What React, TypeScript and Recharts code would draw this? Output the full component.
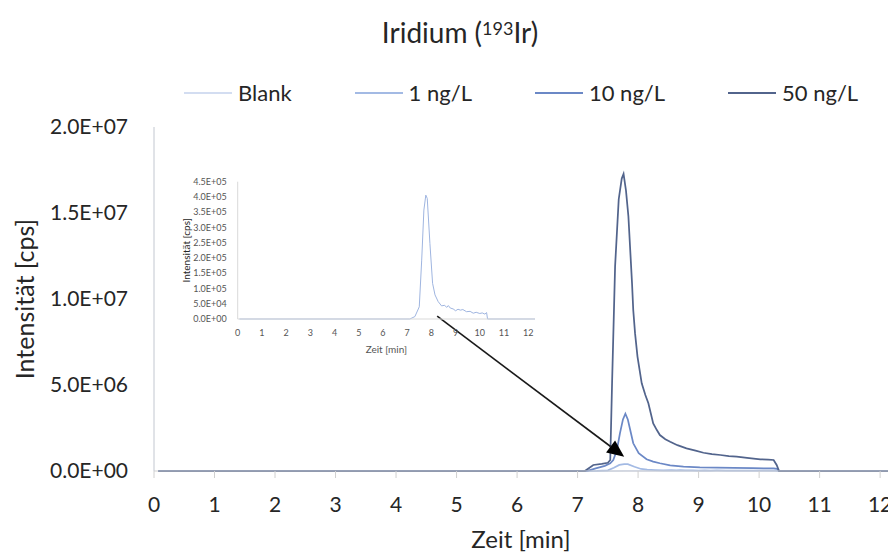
import React from 'react';
import { LineChart, Line, XAxis, YAxis, Legend, ReferenceLine, Label } from 'recharts';

const FONT = 'Lato, "Open Sans", sans-serif';
const TEXT = '#262626';

// ---- tick labels / categories ----
const xTicks = [0, 1, 2, 3, 4, 5, 6, 7, 8, 9, 10, 11, 12];
const yTicks = [0, 5e6, 1e7, 1.5e7, 2e7];
const insetYTicks = [0, 5e4, 1e5, 1.5e5, 2e5, 2.5e5, 3e5, 3.5e5, 4e5, 4.5e5];

const seriesNames = ['Blank', '1 ng/L', '10 ng/L', '50 ng/L'];
const seriesColors = ['#d3ddf1', '#a3bae4', '#6b88c6', '#52648c'];

// ---- series (time in min, intensity) ----
const blankTime = [0.07, 7.5, 7.8, 8.2, 10.3, 12.28];
const blankValues = [0, 0, 0.1, 0.03, 0, 0]; // x1e5 cps

const ng1Time = [0.07, 7.11, 7.32, 7.5, 7.6, 7.69, 7.77, 7.83, 7.94, 8.05, 8.15, 8.28, 8.42, 8.55, 8.63, 8.7, 8.78, 8.9, 9.0, 9.1, 9.2, 9.3, 9.45, 9.6, 9.73, 9.85, 10.0, 10.1, 10.21, 10.28, 10.32, 12.28];
const ng1Values = [0, 0, 0.08, 0.4, 1.93, 3.57, 4.06, 3.95, 2.47, 1.17, 0.79, 0.57, 0.43, 0.45, 0.38, 0.44, 0.36, 0.33, 0.27, 0.32, 0.29, 0.31, 0.24, 0.25, 0.19, 0.22, 0.18, 0.2, 0.16, 0.21, 0, 0]; // x1e5 cps

const ng10Time = [0.07, 7.15, 7.3, 7.45, 7.54, 7.59, 7.65, 7.7, 7.75, 7.79, 7.83, 7.87, 7.92, 8.01, 8.14, 8.25, 8.36, 8.53, 8.75, 9.02, 9.3, 9.58, 9.9, 10.24, 10.3, 10.33, 12.28];
const ng10Values = [0, 0, 0.15, 0.3, 0.45, 0.64, 1.22, 2.19, 3.0, 3.33, 3.0, 2.38, 1.61, 1.03, 0.68, 0.55, 0.45, 0.33, 0.26, 0.21, 0.19, 0.18, 0.16, 0.15, 0.12, 0, 0]; // x1e6 cps

const ng50Time = [0.07, 7.12, 7.26, 7.4, 7.5, 7.54, 7.57, 7.62, 7.68, 7.73, 7.76, 7.8, 7.84, 7.87, 7.9, 7.92, 7.95, 7.99, 8.06, 8.12, 8.17, 8.25, 8.31, 8.36, 8.45, 8.53, 8.65, 8.8, 8.95, 9.08, 9.22, 9.36, 9.5, 9.63, 9.8, 10.02, 10.15, 10.24, 10.29, 10.33, 12.28];
const ng50Values = [0, 0, 0.35, 0.42, 0.48, 0.64, 5.1, 11.9, 15.8, 17.0, 17.27, 16.3, 14.8, 12.85, 10.9, 9.36, 8.0, 6.65, 5.1, 4.42, 3.94, 2.77, 2.38, 2.09, 1.85, 1.7, 1.5, 1.32, 1.18, 1.06, 0.98, 0.93, 0.87, 0.83, 0.76, 0.68, 0.66, 0.64, 0.35, 0, 0]; // x1e6 cps

// arrow annotation (data coordinates of the main chart)
const arrowFrom = { x: 4.68, y: 9.0e6 };
const arrowTo = { x: 7.77, y: 0.83e6 };

const toPoints = (ts: number[], vs: number[], scale: number) => ts.map((t, i) => ({ t, v: vs[i] * scale }));

const blankData = toPoints(blankTime, blankValues, 1e5);
const ng1Data = toPoints(ng1Time, ng1Values, 1e5);
const ng10Data = toPoints(ng10Time, ng10Values, 1e6);
const ng50Data = toPoints(ng50Time, ng50Values, 1e6);
const seriesData = [blankData, ng1Data, ng10Data, ng50Data];

const sci = (v: number) => {
  const [m, e] = v.toExponential(1).split('e');
  const n = parseInt(e, 10);
  return `${m}E${n < 0 ? '-' : '+'}${String(Math.abs(n)).padStart(2, '0')}`;
};

const ArrowShape = (props: any) => {
  const { x1, y1, x2, y2 } = props;
  if ([x1, y1, x2, y2].some((v) => typeof v !== 'number' || isNaN(v))) return <g />;
  const ang = Math.atan2(y2 - y1, x2 - x1);
  const len = 17;
  const hw = 7.5;
  const bx = x2 - len * Math.cos(ang);
  const by = y2 - len * Math.sin(ang);
  const px = -Math.sin(ang);
  const py = Math.cos(ang);
  return (
    <g>
      <line x1={x1} y1={y1} x2={bx} y2={by} stroke="#1a1a1a" strokeWidth={1.6} />
      <polygon points={`${x2},${y2} ${bx + px * hw},${by + py * hw} ${bx - px * hw},${by - py * hw}`} fill="#000" />
    </g>
  );
};

const RotLabel = ({ viewBox, value, dx, size }: any) => {
  const cx = viewBox.x + dx;
  const cy = viewBox.y + viewBox.height / 2;
  return (
    <text x={cx} y={cy} transform={`rotate(-90 ${cx} ${cy})`} textAnchor="middle" dominantBaseline="central" fontFamily={FONT} fontSize={size} fill={TEXT}>
      {value}
    </text>
  );
};

const LegendContent = () => (
  <div style={{ display: 'flex', alignItems: 'center', gap: 63, fontFamily: FONT, fontSize: 22, color: TEXT, whiteSpace: 'nowrap' }}>
    {seriesNames.map((n, i) => (
      <div key={n} style={{ display: 'flex', alignItems: 'center' }}>
        <svg width={48} height={6}>
          <line x1={0} y1={3} x2={48} y2={3} stroke={seriesColors[i]} strokeWidth={2} />
        </svg>
        <span style={{ marginLeft: 6 }}>{n}</span>
      </div>
    ))}
  </div>
);

export default function App() {
  return (
    <div style={{ position: 'absolute', left: 0, top: 0, width: 888, height: 554, background: '#fff', overflow: 'hidden' }}>
      <div style={{ position: 'absolute', left: 0, top: 15, width: 920, textAlign: 'center', fontFamily: FONT, fontSize: 28, lineHeight: '34px', color: TEXT }}>
        Iridium (<span style={{ fontSize: 18, position: 'relative', top: -8 }}>193</span>Ir)
      </div>
      <LineChart width={888} height={554} margin={{ top: 127, right: 0, bottom: 0, left: 0 }}>
        <XAxis
          dataKey="t"
          type="number"
          domain={[0, 12.13]}
          allowDataOverflow
          ticks={xTicks}
          interval={0}
          tickSize={7}
          tickMargin={19}
          height={83}
          stroke="#d0d0d0"
          tick={{ fill: TEXT, fontSize: 21, fontFamily: FONT }}
        >
          <Label value="Zeit [min]" position="insideBottom" offset={6} style={{ fill: TEXT, fontSize: 24, fontFamily: FONT }} />
        </XAxis>
        <YAxis
          type="number"
          domain={[0, 2e7]}
          ticks={yTicks}
          tickFormatter={sci}
          width={154}
          tickLine={false}
          tickSize={0}
          tickMargin={26}
          stroke="#c2c7d0"
          tick={{ fill: TEXT, fontSize: 21, fontFamily: FONT }}
          label={(p: any) => <RotLabel {...p} value="Intensität [cps]" dx={24} size={25} />}
        />
        <Legend verticalAlign="middle" align="center" layout="horizontal" content={LegendContent} wrapperStyle={{ top: 79, left: 184, width: 'auto' }} />
        {seriesNames.map((n, i) => (
          <Line key={n} name={n} data={seriesData[i]} dataKey="v" type="linear" stroke={seriesColors[i]} strokeWidth={1.75} dot={false} activeDot={false} isAnimationActive={false} />
        ))}
        <ReferenceLine segment={[arrowFrom, arrowTo]} shape={ArrowShape} ifOverflow="visible" />
      </LineChart>
      <div style={{ position: 'absolute', left: 170, top: 160, width: 370, height: 200, pointerEvents: 'none' }}>
        <LineChart width={370} height={200} margin={{ top: 21.7, right: 5, bottom: 0, left: 0 }}>
          <XAxis
            dataKey="t"
            type="number"
            domain={[0, 12.28]}
            allowDataOverflow
            ticks={xTicks}
            interval={0}
            tickLine={false}
            tickSize={0}
            tickMargin={11}
            height={41}
            stroke="#d9d9d9"
            tick={{ fill: '#555', fontSize: 9, fontFamily: FONT }}
          >
            <Label value="Zeit [min]" position="insideBottom" offset={7} style={{ fill: '#555', fontSize: 10, fontFamily: FONT }} />
          </XAxis>
          <YAxis
            type="number"
            domain={[0, 4.5e5]}
            ticks={insetYTicks}
            tickFormatter={sci}
            width={67.7}
            tickLine={false}
            tickSize={0}
            tickMargin={11}
            stroke="#d9d9d9"
            tick={{ fill: '#555', fontSize: 9, fontFamily: FONT }}
            label={(p: any) => <RotLabel {...p} value="Intensität [cps]" dx={16} size={10} />}
          />
          <Line name="1 ng/L" data={ng1Data} dataKey="v" type="linear" stroke="#9fb5e0" strokeWidth={1} dot={false} activeDot={false} isAnimationActive={false} />
        </LineChart>
      </div>
    </div>
  );
}
